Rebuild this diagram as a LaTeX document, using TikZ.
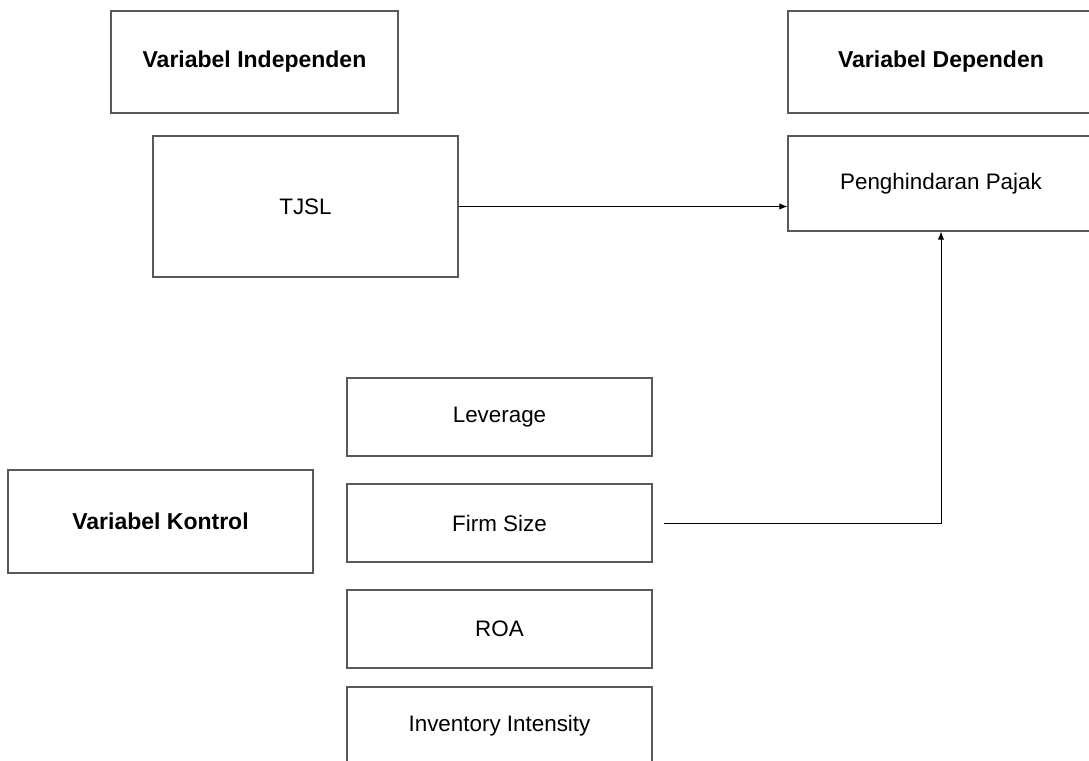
\documentclass[tikz,border=0pt]{standalone}
\usepackage{fontspec}
\setmainfont{Liberation Sans}
\usetikzlibrary{arrows.meta,positioning}

\begin{document}
\begin{tikzpicture}[x=0.5pt,y=-0.5pt,>={Latex[length=4pt,width=3.2pt]},font=\fontsize{11.2}{13}\selectfont]
    \tikzset{kotak/.style={draw=black!65,line width=0.6pt,rectangle,minimum width=152.5pt,minimum height=39pt,inner sep=0pt}}
    \tikzset{judul/.style={kotak,font=\fontsize{11.5}{13}\selectfont\bfseries}}
    \useasboundingbox (0,0) rectangle (1089,761);
    \clip (0,0) rectangle (1089,761);
    \node[judul,minimum width=143.5pt,minimum height=51pt] (indep) at (254.5,62) {Variabel Independen};
    \node[judul,minimum width=153pt,minimum height=51pt] (dep) at (941,62) {Variabel Dependen};
    \node[kotak,minimum height=70.5pt] (tjsl) at (305.5,206.5) {TJSL};
    \node[kotak,minimum width=153pt,minimum height=47.5pt] (pajak) at (941,183.5) {Penghindaran Pajak};
    \node[judul,minimum height=51.5pt] (kontrol) at (160.5,521.5) {Variabel Kontrol};
    \node[kotak] (lev) at (499.5,417) {Leverage};
    \node[kotak] (size) at (499.5,523) {Firm Size};
    \node[kotak] (roa) at (499.5,629) {ROA};
    \node[kotak] (inv) at (499.5,726) {Inventory Intensity};
    \path[->,line width=0.5pt]
    (tjsl.east) edge [] (tjsl.east -| pajak.west)
    ;
    \draw[->,line width=0.5pt] ([xshift=5.5pt]size.east) -| (pajak.south);
  \end{tikzpicture}
\end{document}
